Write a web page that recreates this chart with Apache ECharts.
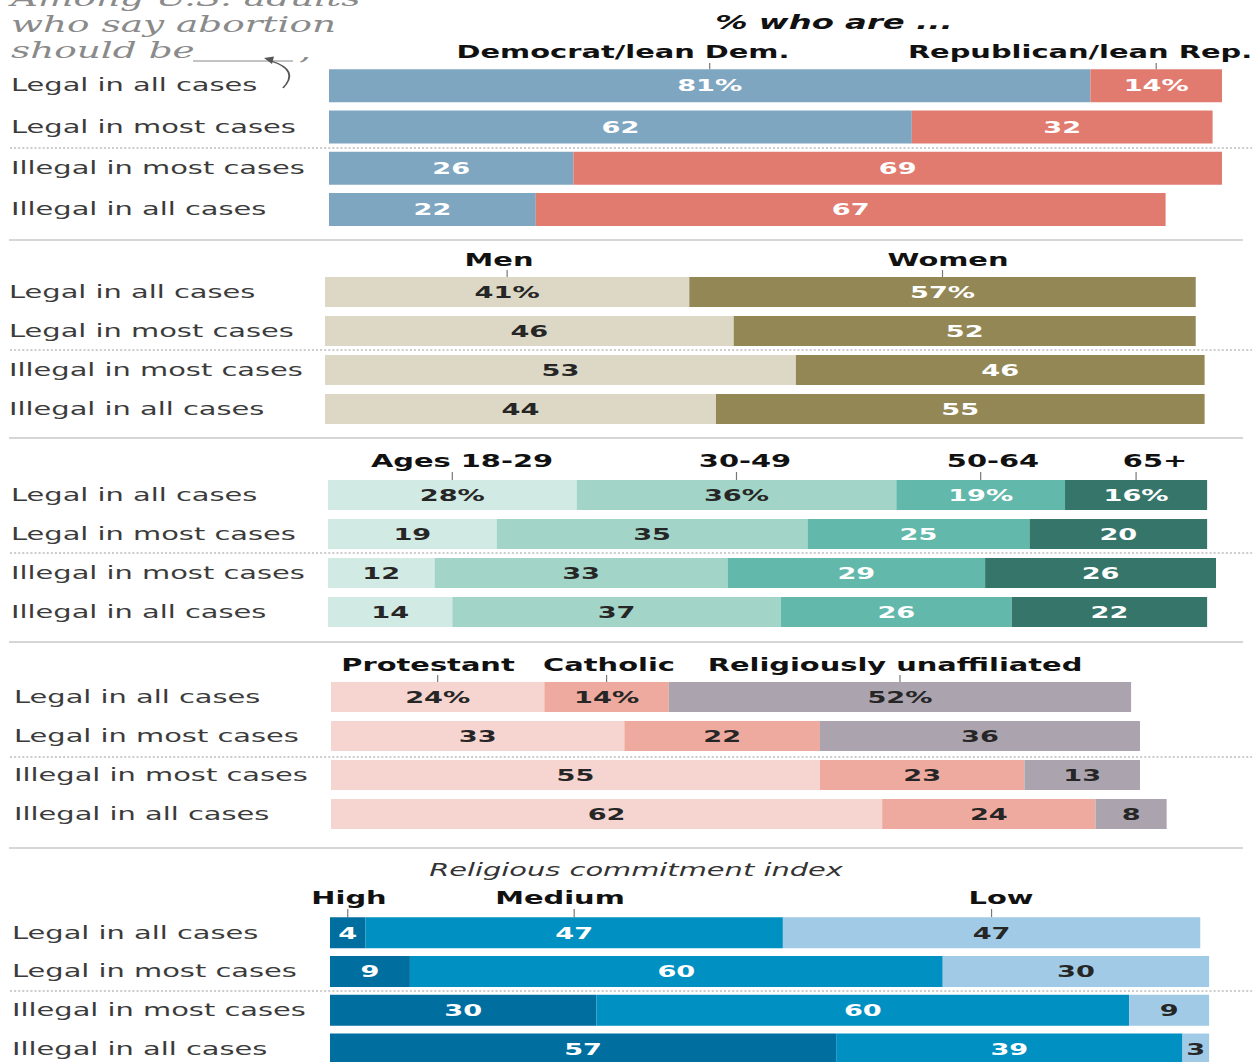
<!DOCTYPE html>
<html>
<head>
<meta charset="utf-8">
<script src="https://cdn.jsdelivr.net/npm/echarts@6/dist/echarts.min.js"></script>
<style>
  html, body { margin: 0; padding: 0; background: #fff; overflow: hidden; width: 1257px; height: 1062px; }
  #chart { transform-origin: 0 0; }
</style>
</head>
<body>
<div id="chart"></div>
<script>
// Row categories (shared by every panel)
const categories = ['Legal in all cases', 'Legal in most cases', 'Illegal in most cases', 'Illegal in all cases'];

// Party
const democrat   = [81, 62, 26, 22];
const republican = [14, 32, 69, 67];
// Gender
const men   = [41, 46, 53, 44];
const women = [57, 52, 46, 55];
// Age
const ages18to29 = [28, 19, 12, 14];
const ages30to49 = [36, 35, 33, 37];
const ages50to64 = [19, 25, 29, 26];
const ages65plus = [16, 20, 26, 22];
// Religion
const protestant   = [24, 33, 55, 62];
const catholic     = [14, 22, 23, 24];
const unaffiliated = [52, 36, 13, 8];
// Religious commitment index
const commitHigh   = [4, 9, 30, 57];
const commitMedium = [47, 60, 60, 39];
const commitLow    = [47, 30, 9, 3];

// Group names per panel
const partyNames    = ['Democrat/lean Dem.', 'Republican/lean Rep.'];
const genderNames   = ['Men', 'Women'];
const ageNames      = ['Ages 18-29', '30-49', '50-64', '65+'];
const religionNames = ['Protestant', 'Catholic', 'Religiously unaffiliated'];
const commitNames   = ['High', 'Medium', 'Low'];

const panelData = [
  [democrat, republican],
  [men, women],
  [ages18to29, ages30to49, ages50to64, ages65plus],
  [protestant, catholic, unaffiliated],
  [commitHigh, commitMedium, commitLow]
];
const panelNames = [partyNames, genderNames, ageNames, religionNames, commitNames];

// ---- styling & layout -------------------------------------------------
// The drawing is laid out in a narrower box and widened with a horizontal stretch.
// The box runs a little past the visible page so the 0-100 scales are not squeezed.
const S = 1.7;
const W = 1320 / S;
const H = 1110;
const X = v => v / S;

const colors = [
  ['#7fa6c1', '#e17b6f'],
  ['#dcd8c5', '#938855'],
  ['#d2eae4', '#a2d5c8', '#62b8aa', '#35756a'],
  ['#f6d5d0', '#eeaa9f', '#aba4ae'],
  ['#006f9f', '#0090c1', '#a0cae5']
];
const labelColors = [
  ['#fff', '#fff'],
  ['#262626', '#fff'],
  ['#262626', '#262626', '#fff', '#fff'],
  ['#262626', '#262626', '#262626'],
  ['#fff', '#fff', '#262626']
];
const layout = [
  { left: 329, top: 65,    height: 165.2, width: 940,   barW: 33, labelX: 11, headerY: 52,  tickTop: 63,  sepY: 148, ruleY: 240, headerX: [623, 1080] },
  { left: 325, top: 272.5, height: 156,   width: 888.5, barW: 30, labelX: 9,  headerY: 260, tickTop: 270, sepY: 350, ruleY: 438, headerX: [499, 948] },
  { left: 328, top: 475.5, height: 156,   width: 888,   barW: 30, labelX: 11, headerY: 461, tickTop: 472, sepY: 553, ruleY: 642, headerX: [462, 745, 993, 1155] },
  { left: 331, top: 677.5, height: 156,   width: 889,   barW: 30, labelX: 14, headerY: 665, tickTop: 675, sepY: 757, ruleY: 848, headerX: [428, 609, 895] },
  { left: 330, top: 913.4, height: 155,   width: 888,   barW: 31, labelX: 12, headerY: 898, tickTop: 909, sepY: 991, ruleY: null, headerX: [349, 560, 1001] }
];

const FONT = 'DejaVu Sans';
const chartEl = document.getElementById('chart');
chartEl.style.width = W + 'px';
chartEl.style.height = H + 'px';
chartEl.style.transform = 'scaleX(' + S + ')';

const chart = echarts.init(chartEl, null, { renderer: 'svg', width: W, height: H });

const grids = [], xAxes = [], yAxes = [], series = [];
layout.forEach((L, p) => {
  grids.push({ left: X(L.left), top: L.top, width: X(L.width), height: L.height, containLabel: false });
  xAxes.push({ gridIndex: p, type: 'value', min: 0, max: 100, show: false });
  yAxes.push({
    gridIndex: p, type: 'category', data: categories, inverse: true,
    axisLine: { show: false }, axisTick: { show: false }, splitLine: { show: false },
    axisLabel: {
      align: 'left', margin: X(L.left - L.labelX),
      fontFamily: FONT, fontSize: 17, color: '#3b3b3b'
    }
  });
  panelData[p].forEach((vals, g) => {
    series.push({
      type: 'bar', name: panelNames[p][g], xAxisIndex: p, yAxisIndex: p,
      stack: 'panel' + p, data: vals, barWidth: L.barW,
      itemStyle: { color: colors[p][g] },
      label: {
        show: true, position: 'inside',
        fontFamily: FONT, fontWeight: 'bold', fontSize: 16,
        color: labelColors[p][g],
        formatter: d => (d.dataIndex === 0 && p < 4) ? d.value + '%' : String(d.value)
      },
      emphasis: { disabled: true },
      silent: true,
      animation: false
    });
  });
});

chart.setOption({
  animation: false,
  grid: grids, xAxis: xAxes, yAxis: yAxes, series: series
});

// ---- annotations: headers, ticks, rules, titles -----------------------
const graphics = [];
const txt = (x, y, text, style) => graphics.push({
  type: 'text', x: X(x), y: y, silent: true,
  style: Object.assign({ text: text, align: 'center', verticalAlign: 'middle', fontFamily: FONT }, style)
});
const line = (x1, y1, x2, y2, style) => graphics.push({
  type: 'line', silent: true,
  shape: { x1: X(x1), y1: y1, x2: X(x2), y2: y2 },
  style: style
});

layout.forEach((L, p) => {
  let cum = 0;
  panelData[p].forEach((vals, g) => {
    const mid = cum + vals[0] / 2;
    cum += vals[0];
    const px = chart.convertToPixel({ gridIndex: p }, [mid, 0]);
    graphics.push({
      type: 'line', silent: true,
      shape: { x1: px[0], y1: L.tickTop, x2: px[0], y2: L.top + (L.height / 4 - L.barW) / 2 },
      style: { stroke: '#777', lineWidth: 0.7 }
    });
    txt(L.headerX[g], L.headerY, panelNames[p][g], { fontWeight: 'bold', fontSize: 17, fill: '#111' });
  });
  // dotted divider between "legal" and "illegal" rows
  line(10, L.sepY, 1252, L.sepY, { stroke: '#9c9c9c', lineWidth: 1, lineDash: [1.2, 1.2] });
  if (L.ruleY !== null) line(9, L.ruleY, 1243, L.ruleY, { stroke: '#c9c9c9', lineWidth: 1.5 });
});

// panel titles
txt(834, 22, '% who are ...', { fontWeight: 'bold', fontStyle: 'italic', fontSize: 19, fill: '#111' });
txt(636, 870, 'Religious commitment index', { fontStyle: 'italic', fontSize: 17, fill: '#333' });

// lead-in phrase at the top left (its first line runs off the top edge)
const serif = { align: 'left', fontFamily: 'DejaVu Serif', fontStyle: 'italic', fontSize: 22, fill: '#8a8a8a' };
txt(11, -2, 'Among U.S. adults', serif);
txt(11, 24, 'who say abortion', serif);
txt(11, 50, 'should be', serif);
line(193, 61, 293, 61, { stroke: '#8a8a8a', lineWidth: 1.2 });
txt(299, 52, ',', serif);

// curved pointer from the first row up to the blank
graphics.push({
  type: 'bezierCurve', silent: true,
  shape: { x1: X(283), y1: 88, cpx1: X(300), cpy1: 70, x2: X(271), y2: 61 },
  style: { stroke: '#555', lineWidth: 1.1, fill: null }
});
graphics.push({
  type: 'polygon', silent: true,
  shape: { points: [[X(264), 58], [X(274), 56.5], [X(272), 64]] },
  style: { fill: '#555' }
});

chart.setOption({ graphic: graphics });
</script>
</body>
</html>
